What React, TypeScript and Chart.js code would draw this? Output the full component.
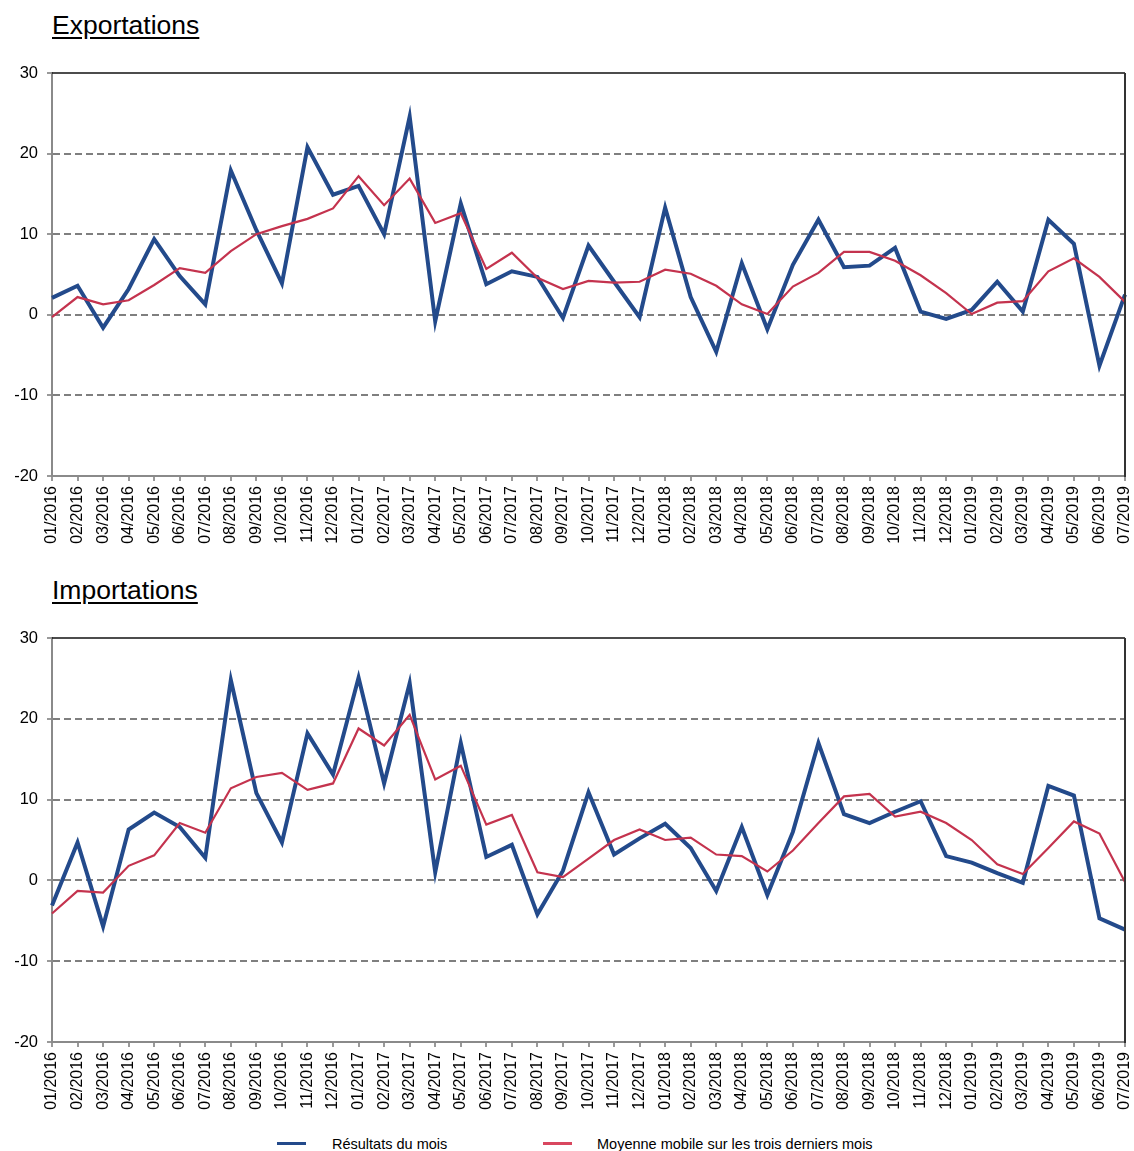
import React, { useEffect, useRef } from "react";
import { Chart, registerables } from "chart.js";

Chart.register(...registerables);

const months = [
  "01/2016", "02/2016", "03/2016", "04/2016", "05/2016", "06/2016", "07/2016", "08/2016", "09/2016", "10/2016", "11/2016", "12/2016",
  "01/2017", "02/2017", "03/2017", "04/2017", "05/2017", "06/2017", "07/2017", "08/2017", "09/2017", "10/2017", "11/2017", "12/2017",
  "01/2018", "02/2018", "03/2018", "04/2018", "05/2018", "06/2018", "07/2018", "08/2018", "09/2018", "10/2018", "11/2018", "12/2018",
  "01/2019", "02/2019", "03/2019", "04/2019", "05/2019", "06/2019", "07/2019",
];

const exportsMonthly = [
  2.1, 3.6, -1.6, 3.2, 9.4, 4.8, 1.3, 17.9, 10.5, 3.9, 20.8, 14.9,
  16.0, 10.0, 24.6, -0.8, 13.8, 3.8, 5.4, 4.7, -0.4, 8.6, 4.1, -0.3,
  13.3, 2.2, -4.6, 6.4, -1.8, 6.2, 11.8, 5.9, 6.1, 8.3, 0.4, -0.5,
  0.6, 4.1, 0.4, 11.8, 8.8, -6.3, 2.5,
];

const exportsMovingAvg = [
  -0.3, 2.2, 1.3, 1.8, 3.7, 5.8, 5.2, 7.9, 10.0, 11.0, 11.9, 13.2,
  17.2, 13.6, 16.9, 11.4, 12.6, 5.7, 7.7, 4.6, 3.2, 4.2, 4.0, 4.1,
  5.6, 5.1, 3.6, 1.3, 0.1, 3.5, 5.2, 7.8, 7.8, 6.7, 4.9, 2.7,
  0.1, 1.5, 1.7, 5.4, 7.0, 4.7, 1.6,
];

const importsMonthly = [
  -3.1, 4.7, -5.7, 6.3, 8.4, 6.6, 2.8, 24.8, 10.8, 4.7, 18.2, 13.1,
  25.1, 12.0, 24.4, 1.0, 17.0, 2.9, 4.4, -4.2, 1.2, 10.9, 3.2, 5.2,
  7.0, 4.0, -1.3, 6.6, -1.8, 6.0, 17.0, 8.2, 7.1, 8.5, 9.8, 3.0,
  2.2, 0.9, -0.3, 11.7, 10.5, -4.7, -6.1,
];

const importsMovingAvg = [
  -4.1, -1.3, -1.5, 1.8, 3.1, 7.1, 5.9, 11.4, 12.8, 13.3, 11.2, 12.0,
  18.8, 16.7, 20.5, 12.5, 14.2, 6.9, 8.1, 1.0, 0.4, 2.7, 5.0, 6.3,
  5.0, 5.3, 3.2, 3.0, 1.1, 3.7, 7.1, 10.4, 10.7, 7.9, 8.5, 7.1,
  5.0, 2.0, 0.8, 4.0, 7.3, 5.8, -0.2,
];

const yMin = -20;
const yMax = 30;
const yStep = 10;

const seriesLabels = ["Résultats du mois", "Moyenne mobile sur les trois derniers mois"];
const BLUE = "#234a8b";
const RED = "#c4334e";
const GRID = "#7f7f7f";
const FONT = "Arial, 'Liberation Sans', sans-serif";

const framePlugin = {
  id: "frame",
  afterDatasetsDraw(chart: any) {
    const { ctx, chartArea } = chart;
    const { left, right, top, bottom } = chartArea;
    ctx.save();
    ctx.strokeStyle = "#111";
    ctx.lineWidth = 1.5;
    ctx.beginPath();
    ctx.moveTo(left, top);
    ctx.lineTo(right, top);
    ctx.stroke();
    ctx.strokeStyle = "#333";
    ctx.lineWidth = 2;
    ctx.beginPath();
    ctx.moveTo(right, top);
    ctx.lineTo(right, bottom + 1);
    ctx.stroke();
    ctx.restore();
  },
};

function Panel(props: { top: number; height: number; xHeight: number; monthly: number[]; avg: number[] }) {
  const ref = useRef<HTMLCanvasElement>(null);
  useEffect(() => {
    if (!ref.current) return;
    const chart = new Chart(ref.current, {
      type: "line",
      data: {
        labels: months,
        datasets: [
          {
            label: seriesLabels[1],
            data: props.avg,
            borderColor: RED,
            borderWidth: 2.2,
            pointRadius: 0,
            tension: 0,
            fill: false,
          },
          {
            label: seriesLabels[0],
            data: props.monthly,
            borderColor: BLUE,
            borderWidth: 4,
            pointRadius: 0,
            tension: 0,
            fill: false,
            borderJoinStyle: "miter",
          },
        ],
      },
      options: {
        animation: false,
        responsive: false,
        maintainAspectRatio: false,
        layout: { padding: { top: 13, right: 9, left: 0, bottom: 0 } },
        plugins: { legend: { display: false }, tooltip: { enabled: false } },
        scales: {
          x: {
            type: "category",
            offset: false,
            afterFit: (s: any) => {
              s.height = props.xHeight;
              s.paddingLeft = 0;
              s.paddingRight = 0;
            },
            grid: {
              offset: false,
              drawOnChartArea: false,
              drawTicks: true,
              tickLength: 5,
              color: "#999",
              lineWidth: 2,
            },
            border: { display: true, color: "#8a8a8a", width: 2 },
            ticks: {
              autoSkip: false,
              maxRotation: 90,
              minRotation: 90,
              padding: 5,
              color: "#000",
              font: { family: FONT, size: 16 },
            },
          },
          y: {
            min: yMin,
            max: yMax,
            afterFit: (s: any) => {
              s.width = 52;
              s.paddingTop = 0;
              s.paddingBottom = 0;
            },
            grid: {
              color: (c: any) =>
                c.tick && (c.tick.value === yMax || c.tick.value === yMin) ? "rgba(0,0,0,0)" : GRID,
              lineWidth: 2,
              tickColor: "#999",
              tickWidth: 2,
              tickLength: 5,
              drawTicks: true,
            },
            border: { display: true, color: "#8a8a8a", width: 2, dash: [7, 4] },
            ticks: {
              stepSize: yStep,
              padding: 9,
              color: "#000",
              font: { family: FONT, size: 16.5 },
            },
          },
        },
      },
      plugins: [framePlugin],
    } as any);
    return () => chart.destroy();
  }, []);
  return (
    <canvas
      ref={ref}
      width={1134}
      height={props.height}
      style={{ position: "absolute", left: 0, top: props.top, width: 1134, height: props.height }}
    />
  );
}

const titleStyle = (top: number): React.CSSProperties => ({
  position: "absolute",
  left: 52,
  top,
  fontFamily: FONT,
  fontSize: 26.5,
  lineHeight: "25px",
  textDecoration: "underline",
  textUnderlineOffset: "3px",
  color: "#000",
  whiteSpace: "nowrap",
});

const legendText = (left: number): React.CSSProperties => ({
  position: "absolute",
  left,
  top: 1136.5,
  fontFamily: FONT,
  fontSize: 14.5,
  lineHeight: "15px",
  color: "#000",
  whiteSpace: "nowrap",
});

export default function App() {
  return (
    <div
      style={{
        position: "fixed",
        left: 0,
        top: 0,
        width: 1134,
        height: 1151,
        overflow: "hidden",
        background: "#fff",
      }}
    >
      <div style={titleStyle(12.5)}>Exportations</div>
      <Panel top={60} height={500} xHeight={84} monthly={exportsMonthly} avg={exportsMovingAvg} />
      <div style={titleStyle(577.5)}>Importations</div>
      <Panel top={625} height={500} xHeight={83} monthly={importsMonthly} avg={importsMovingAvg} />
      <div style={{ position: "absolute", left: 277, top: 1141.5, width: 29, height: 3, background: BLUE }} />
      <div style={legendText(332)}>{seriesLabels[0]}</div>
      <div style={{ position: "absolute", left: 543, top: 1141.5, width: 29, height: 3, background: "#d9475f" }} />
      <div style={legendText(597)}>{seriesLabels[1]}</div>
    </div>
  );
}
